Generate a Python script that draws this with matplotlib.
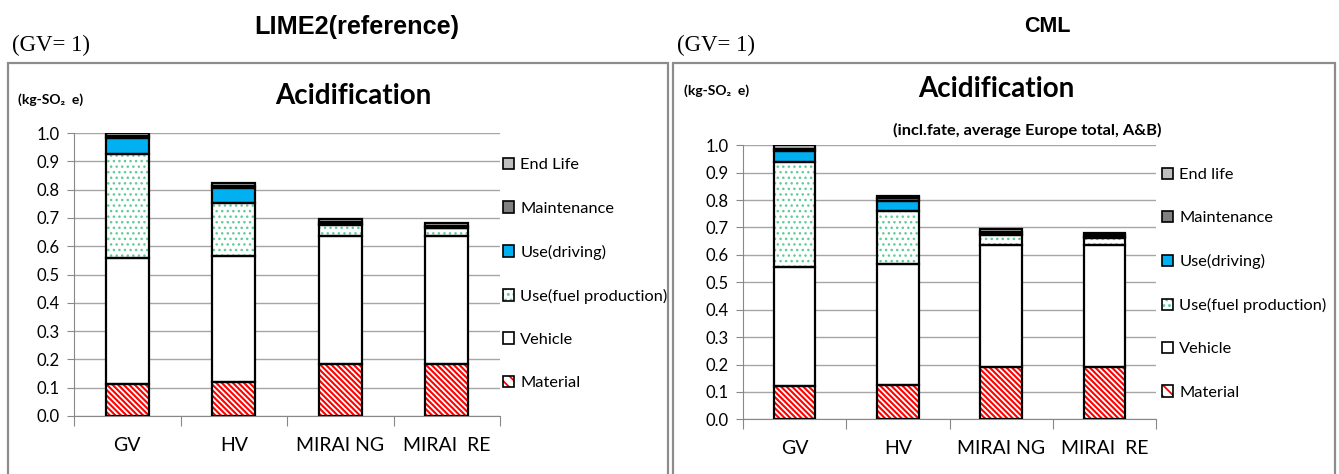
import matplotlib
matplotlib.use("Agg")
import matplotlib.pyplot as plt
from matplotlib.patches import Rectangle, Patch
from matplotlib.legend_handler import HandlerTuple
import numpy as np

# ---------------- data ----------------
categories = ["GV", "HV", "MIRAI NG", "MIRAI  RE"]

lime_material = [0.113, 0.120, 0.183, 0.183]
lime_vehicle = [0.446, 0.444, 0.453, 0.453]
lime_fuel = [0.367, 0.188, 0.039, 0.027]
lime_driving = [0.056, 0.053, 0.003, 0.002]
lime_maint = [0.008, 0.008, 0.008, 0.007]
lime_endlife = [0.010, 0.011, 0.010, 0.009]

cml_material = [0.121, 0.126, 0.192, 0.192]
cml_vehicle = [0.436, 0.440, 0.444, 0.444]
cml_fuel = [0.383, 0.193, 0.037, 0.025]
cml_driving = [0.038, 0.039, 0.003, 0.003]
cml_maint = [0.010, 0.008, 0.008, 0.008]
cml_endlife = [0.012, 0.009, 0.009, 0.009]

lab1 = ["Material", "Vehicle", "Use(fuel production)", "Use(driving)", "Maintenance", "End Life"]
lab2 = ["Material", "Vehicle", "Use(fuel production)", "Use(driving)", "Maintenance", "End life"]

yticks = [0.0, 0.1, 0.2, 0.3, 0.4, 0.5, 0.6, 0.7, 0.8, 0.9, 1.0]

# ---------------- style ----------------
W, H = 1339, 474
SANS = ["Lato", "DejaVu Sans"]
plt.rcParams["font.family"] = SANS

fig = plt.figure(figsize=(W / 100, H / 100), dpi=100)


def px_box(x0, y0, x1, y1):
    return [x0 / W, 1 - y1 / H, (x1 - x0) / W, (y1 - y0) / H]


styles = [
    dict(face="white", hatch="\\" * 6, hcolor="#FF0000", hlw=1.5),   # Material
    dict(face="white", hatch=None, hcolor=None, hlw=None),            # Vehicle
    dict(face="white", hatch="...", hcolor="#5FCB98", hlw=1.0),      # fuel production
    dict(face="#00B0F0", hatch=None, hcolor=None, hlw=None),          # driving
    dict(face="#808080", hatch=None, hcolor=None, hlw=None),          # maintenance
    dict(face="#C0C0C0", hatch=None, hcolor=None, hlw=None),          # end life
]


def set_hlw(patches, lw):
    for p in patches:
        if hasattr(p, "set_hatch_linewidth"):
            p.set_hatch_linewidth(lw)


def draw_panel(ax, data, legend_labels, legend_anchor):
    x = np.arange(len(categories))
    bottom = np.zeros(len(categories))
    width = 0.4
    for vals, st in zip(data, styles):
        vals = np.array(vals)
        if st["hatch"]:
            plt.rcParams["hatch.linewidth"] = st["hlw"]
            bars = ax.bar(x, vals, width, bottom=bottom, color=st["face"], hatch=st["hatch"],
                          edgecolor=st["hcolor"], linewidth=0, zorder=3)
            set_hlw(bars, st["hlw"])
        else:
            ax.bar(x, vals, width, bottom=bottom, color=st["face"], linewidth=0, zorder=3)
        ax.bar(x, vals, width, bottom=bottom, fill=False, edgecolor="black",
               linewidth=1.6, zorder=4)
        bottom += vals
    ax.set_xlim(-0.5, len(categories) - 0.5)
    ax.set_ylim(0, 1.0)
    ax.set_yticks(yticks)
    ax.set_yticklabels([f"{t:.1f}" for t in yticks])
    ax.grid(axis="y", color="#A6A6A6", linewidth=1.0, zorder=0)
    ax.set_axisbelow(True)
    for s in ["top", "right"]:
        ax.spines[s].set_visible(False)
    ax.spines["left"].set_color("#888888")
    ax.spines["bottom"].set_color("#888888")
    ax.set_xticks(np.arange(-0.5, len(categories), 1.0), minor=False)
    ax.set_xticklabels([])
    ax.set_xticks(x, minor=True)
    ax.set_xticklabels(categories, minor=True, fontsize=14)
    ax.tick_params(axis="x", which="major", direction="out", length=7, color="#888888")
    ax.tick_params(axis="x", which="minor", length=0, pad=15)
    ax.tick_params(axis="y", direction="out", length=5, color="#888888", labelsize=12, pad=5)
    ax.set_facecolor("white")

    handles = []
    for st in styles:
        outline = Patch(facecolor="none", edgecolor="black", linewidth=1.2)
        if st["hatch"]:
            plt.rcParams["hatch.linewidth"] = st["hlw"] * 1.3
            hp = Patch(facecolor=st["face"], edgecolor=st["hcolor"], hatch=st["hatch"][:3],
                       linewidth=0)
            set_hlw([hp], st["hlw"] * 1.3)
            handles.append((hp, outline))
        else:
            hp = Patch(facecolor=st["face"], edgecolor="none", linewidth=0)
            handles.append((hp, outline))
    leg = fig.legend(handles[::-1], legend_labels[::-1], loc="upper left",
                     bbox_to_anchor=legend_anchor, frameon=False, fontsize=11.8,
                     handlelength=0.7, handleheight=0.7, handletextpad=0.35,
                     labelspacing=1.76, borderaxespad=0, borderpad=0,
                     handler_map={tuple: HandlerTuple(ndivide=1, pad=0)})
    return leg


# panel frames
for (x0, x1) in [(8, 668), (673, 1335)]:
    fig.patches.append(Rectangle((x0 / W, -0.1), (x1 - x0) / W, 1 - 63 / H + 0.1,
                                 transform=fig.transFigure, fill=False,
                                 edgecolor="#8C8C8C", linewidth=1.6))

ax1 = fig.add_axes(px_box(74, 133, 500, 416))
ax2 = fig.add_axes(px_box(743, 145.3, 1156, 419.3))

lime = [lime_material, lime_vehicle, lime_fuel, lime_driving, lime_maint, lime_endlife]
cml = [cml_material, cml_vehicle, cml_fuel, cml_driving, cml_maint, cml_endlife]

draw_panel(ax1, lime, lab1, (503 / W, 1 - 158 / H))
draw_panel(ax2, cml, lab2, (1162 / W, 1 - 167.5 / H))

# ---------------- texts ----------------
def ftext(xp, yp, s, **kw):
    fig.text(xp / W, 1 - yp / H, s, **kw)

ftext(357, 27, "LIME2(reference)", ha="center", va="center", fontsize=18.2,
      fontweight="bold", family=["Liberation Sans", "DejaVu Sans"])
ftext(1047, 27, "CML", ha="center", va="center", fontsize=15.5,
      fontweight="bold", family=["Liberation Sans", "DejaVu Sans"])
ftext(12, 45, "(GV= 1)", ha="left", va="center", fontsize=16.5,
      family=["Liberation Serif", "DejaVu Serif"])
ftext(677, 45, "(GV= 1)", ha="left", va="center", fontsize=16.5,
      family=["Liberation Serif", "DejaVu Serif"])

ftext(18, 100, "(kg-SO₂  e)", ha="left", va="center", fontsize=10, fontweight="bold")
ftext(684, 91, "(kg-SO₂  e)", ha="left", va="center", fontsize=10, fontweight="bold")
ftext(353, 96, "Acidification", ha="center", va="center", fontsize=20, fontweight="bold")
ftext(996, 89, "Acidification", ha="center", va="center", fontsize=20, fontweight="bold")
ftext(1027, 130, "(incl.fate, average Europe total, A&B)", ha="center", va="center",
      fontsize=11.8, fontweight="bold")

fig.savefig("out.png", dpi=100, facecolor="white")
